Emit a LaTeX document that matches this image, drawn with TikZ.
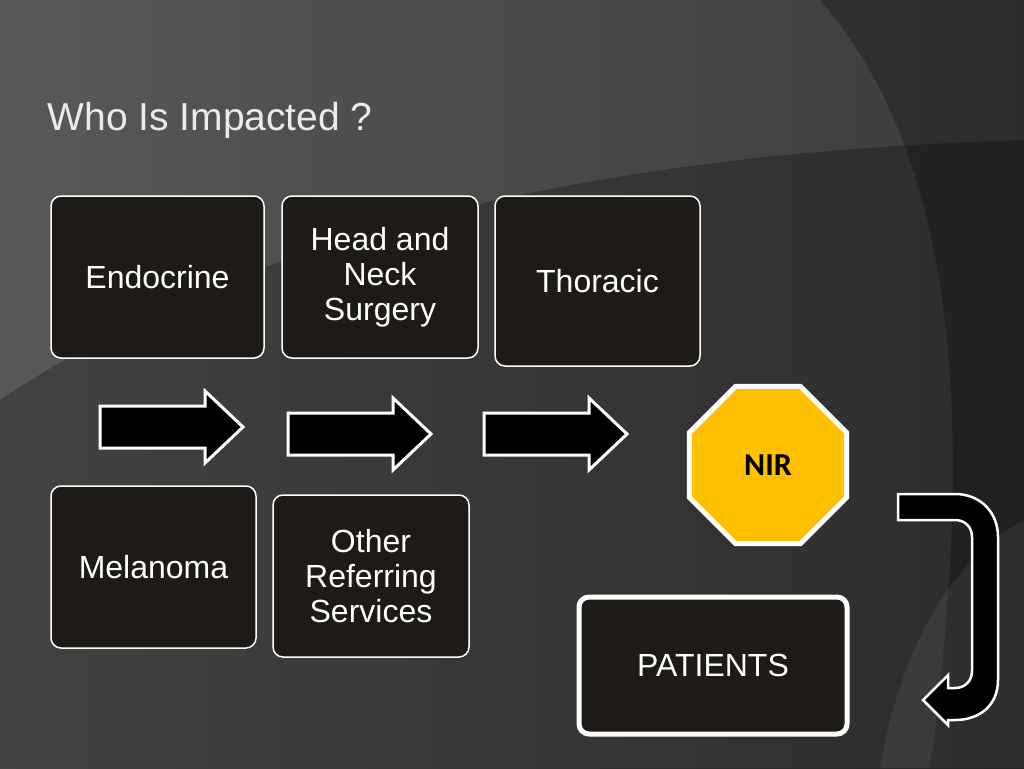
\documentclass[tikz,border=0pt]{standalone}
\usepackage{fontspec}
\setmainfont{Liberation Sans}
\newfontfamily\carl{Carlito}
\usetikzlibrary{shapes.geometric}
\definecolor{boxfill}{HTML}{1E1B17}
\definecolor{nir}{HTML}{FFC000}
\tikzset{
 box/.style={draw=white,line width=1.5pt,fill=boxfill,rounded corners=10pt,text=white,align=center,font=\fontsize{32}{35}\selectfont},
 blockarrow/.style={draw=white,line width=3pt,fill=black,line join=miter}
}
\begin{document}
\begin{tikzpicture}[x=1pt,y=-1pt]
\useasboundingbox (0,0) rectangle (1024,768);
\shade[left color=gray!55!black,right color=black!85] (0,0) rectangle (1024,768);
\fill[white,opacity=0.10] (0,0) rectangle (1024,768);
\fill[black,opacity=0.25] (0,768) -- (0,400) .. controls (300,200) and (700,150) .. (1024,140) -- (1024,768) -- cycle;
\fill[black,opacity=0.25] (820,0) .. controls (950,150) and (980,400) .. (930,768) -- (1024,768) -- (1024,0) -- cycle;
\fill[white,opacity=0.06] (880,768) .. controls (900,650) and (950,560) .. (1024,520) -- (1024,768) -- cycle;
\node[anchor=west,text=white!92!black,font=\fontsize{39}{42}\selectfont] (title) at (44,120) {Who Is Impacted ?};
\node[box,minimum width=213pt,minimum height=162pt] (endo) at (157.5,277) {Endocrine};
\node[box,minimum width=196pt,minimum height=162pt] (head) at (380,277) {Head and\\Neck\\Surgery};
\node[box,minimum width=205pt,minimum height=170pt] (thor) at (597.5,281) {Thoracic};
\node[box,minimum width=205pt,minimum height=162pt] (mela) at (153.5,567) {Melanoma};
\node[box,minimum width=196pt,minimum height=162pt] (other) at (371,576) {Other\\Referring\\Services};
\node[box,line width=5pt,minimum width=268pt,minimum height=137pt] (pat) at (713,665.5) {PATIENTS};
\node[regular polygon,regular polygon sides=8,minimum size=170pt,fill=nir,draw=white,line width=5pt,font=\carl\bfseries\fontsize{32}{36}\selectfont,text=black] (nir) at (768,465) {NIR};
\foreach \x/\y in {100/427,288/434,484/434}{
 \draw[blockarrow] (\x,\y-21) -- (\x+105,\y-21) -- (\x+105,\y-36) -- (\x+143,\y) -- (\x+105,\y+36) -- (\x+105,\y+21) -- (\x,\y+21) -- cycle;
}
\draw[blockarrow,line width=2.5pt] (898,494) -- (955,494) .. controls (980,494) and (998,512) .. (998,537) -- (998,680) .. controls (998,705) and (980,720) .. (955,720) -- (948,720) -- (948,725) -- (923,700) -- (948,675) -- (948,688) -- (955,688) .. controls (965,688) and (972,681) .. (972,671) -- (972,537) .. controls (972,527) and (965,520) .. (955,520) -- (898,520) -- cycle;
\end{tikzpicture}
\end{document}
